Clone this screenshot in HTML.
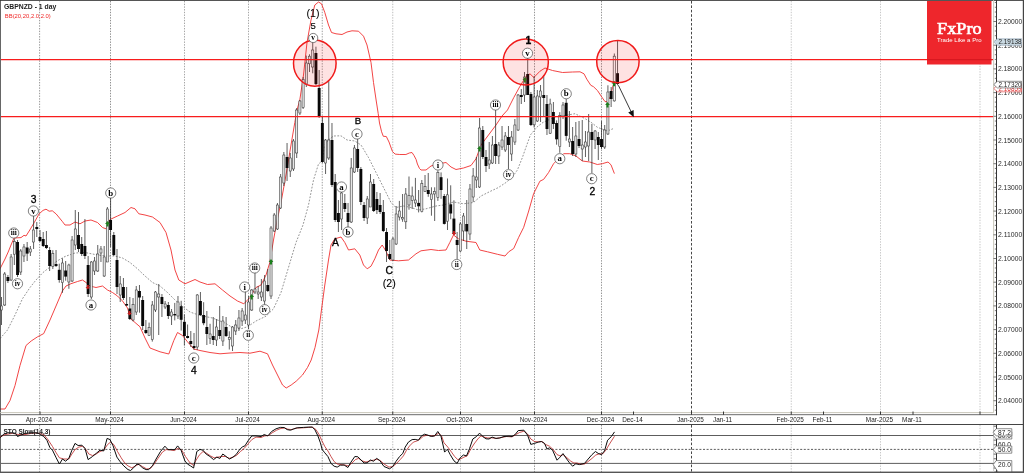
<!DOCTYPE html><html><head><meta charset="utf-8"><title>GBPNZD</title><style>html,body{margin:0;padding:0;background:#fff}body{width:1024px;height:473px;overflow:hidden}svg{display:block;will-change:transform;opacity:0.999}text{font-family:"Liberation Sans",sans-serif}.s{font-family:"Liberation Serif",serif}</style></head><body>
<svg width="1024" height="473" viewBox="0 0 1024 473">
<rect x="0" y="0" width="1024" height="473" fill="#fff"/>
<line x1="39.6" y1="1" x2="39.6" y2="412" stroke="#6c6c6c" stroke-width="0.7" stroke-dasharray="1.4 1.3"/>
<line x1="39.6" y1="425" x2="39.6" y2="472" stroke="#6c6c6c" stroke-width="0.7" stroke-dasharray="1.4 1.3"/>
<line x1="110.5" y1="1" x2="110.5" y2="412" stroke="#606060" stroke-width="0.7" stroke-dasharray="1.4 1.3"/>
<line x1="110.5" y1="425" x2="110.5" y2="472" stroke="#606060" stroke-width="0.7" stroke-dasharray="1.4 1.3"/>
<line x1="184.5" y1="1" x2="184.5" y2="412" stroke="#808080" stroke-width="0.7" stroke-dasharray="1.4 1.3"/>
<line x1="184.5" y1="425" x2="184.5" y2="472" stroke="#808080" stroke-width="0.7" stroke-dasharray="1.4 1.3"/>
<line x1="248.5" y1="1" x2="248.5" y2="412" stroke="#808080" stroke-width="0.7" stroke-dasharray="1.4 1.3"/>
<line x1="248.5" y1="425" x2="248.5" y2="472" stroke="#808080" stroke-width="0.7" stroke-dasharray="1.4 1.3"/>
<line x1="322.25" y1="1" x2="322.25" y2="412" stroke="#777" stroke-width="0.7" stroke-dasharray="1.4 1.3"/>
<line x1="322.25" y1="425" x2="322.25" y2="472" stroke="#777" stroke-width="0.7" stroke-dasharray="1.4 1.3"/>
<line x1="392.75" y1="1" x2="392.75" y2="412" stroke="#a0a0a0" stroke-width="0.7" stroke-dasharray="1.4 1.3"/>
<line x1="392.75" y1="425" x2="392.75" y2="472" stroke="#a0a0a0" stroke-width="0.7" stroke-dasharray="1.4 1.3"/>
<line x1="460.5" y1="1" x2="460.5" y2="412" stroke="#a0a0a0" stroke-width="0.7" stroke-dasharray="1.4 1.3"/>
<line x1="460.5" y1="425" x2="460.5" y2="472" stroke="#a0a0a0" stroke-width="0.7" stroke-dasharray="1.4 1.3"/>
<line x1="534.5" y1="1" x2="534.5" y2="412" stroke="#666" stroke-width="0.7" stroke-dasharray="1.4 1.3"/>
<line x1="534.5" y1="425" x2="534.5" y2="472" stroke="#666" stroke-width="0.7" stroke-dasharray="1.4 1.3"/>
<line x1="601.5" y1="1" x2="601.5" y2="412" stroke="#666" stroke-width="0.7" stroke-dasharray="1.4 1.3"/>
<line x1="601.5" y1="425" x2="601.5" y2="472" stroke="#666" stroke-width="0.7" stroke-dasharray="1.4 1.3"/>
<line x1="791.25" y1="1" x2="791.25" y2="412" stroke="#b0b0b0" stroke-width="0.7" stroke-dasharray="1.4 1.3"/>
<line x1="791.25" y1="425" x2="791.25" y2="472" stroke="#b0b0b0" stroke-width="0.7" stroke-dasharray="1.4 1.3"/>
<line x1="880.5" y1="1" x2="880.5" y2="412" stroke="#b0b0b0" stroke-width="0.7" stroke-dasharray="1.4 1.3"/>
<line x1="880.5" y1="425" x2="880.5" y2="472" stroke="#b0b0b0" stroke-width="0.7" stroke-dasharray="1.4 1.3"/>
<line x1="980" y1="1" x2="980" y2="412" stroke="#b0b0b0" stroke-width="0.7" stroke-dasharray="1.4 1.3"/>
<line x1="980" y1="425" x2="980" y2="472" stroke="#b0b0b0" stroke-width="0.7" stroke-dasharray="1.4 1.3"/>
<line x1="691.5" y1="1" x2="691.5" y2="412" stroke="#333" stroke-width="0.9" stroke-dasharray="2.6 1.8"/>
<line x1="691.5" y1="425" x2="691.5" y2="472" stroke="#333" stroke-width="0.9" stroke-dasharray="2.6 1.8"/>
<polyline points="0.0,338.6 7.5,330.0 15.0,315.0 22.5,298.7 30.0,287.5 36.0,280.0 43.0,272.5 50.0,267.0 57.0,261.0 65.0,256.5 75.0,253.0 85.0,252.5 95.0,254.5 105.0,256.0 115.0,256.0 122.5,258.0 130.0,262.5 137.5,268.8 145.0,276.0 152.5,282.5 160.0,286.0 167.5,292.5 175.0,300.0 180.0,304.5 190.0,312.0 200.0,315.5 212.5,318.0 225.0,323.0 232.5,327.5 240.0,329.0 247.5,326.8 256.0,321.0 266.0,316.2 273.5,308.8 281.0,292.5 288.5,267.5 296.0,242.5 303.0,225.0 308.5,205.0 313.5,180.0 318.5,164.0 322.0,161.0 324.8,145.0 328.5,140.0 333.5,136.0 341.0,135.8 347.0,140.0 354.8,141.0 361.0,145.0 368.5,157.5 376.0,172.5 383.5,187.5 391.0,202.5 396.0,207.5 403.5,206.0 411.0,207.5 418.5,210.0 426.0,208.8 436.0,206.0 443.5,205.0 453.5,202.0 463.5,203.8 473.5,202.5 481.0,196.0 491.0,191.0 498.5,187.5 506.0,182.5 512.0,177.5 517.4,170.0 522.4,157.5 525.0,150.0 530.4,135.0 537.0,127.0 543.0,122.4 555.0,117.0 567.8,115.0 575.0,113.7 585.0,118.6 592.0,123.0 597.4,127.3 607.4,131.0 613.6,128.5" fill="none" stroke="#666" stroke-width="0.7" stroke-linejoin="round" stroke-dasharray="1.8 1.5"/>
<polyline points="0.0,268.8 5.0,259.0 8.2,252.0 11.0,245.0 13.9,238.2 17.0,237.8 21.0,237.6 24.0,235.3 26.0,236.0 29.8,230.0 34.2,222.6 39.0,214.0 43.0,210.4 46.0,209.2 49.2,211.2 52.3,210.8 56.2,214.0 62.5,221.7 65.0,225.0 70.0,225.0 75.0,222.0 80.0,223.8 85.0,221.0 91.0,220.0 97.5,222.5 102.5,227.5 106.0,228.8 110.0,219.5 117.5,216.0 125.0,212.5 131.0,207.5 135.0,208.8 138.8,213.8 145.0,215.0 152.5,217.0 160.0,222.5 166.0,232.5 171.0,250.0 175.0,270.0 178.8,280.0 185.0,283.8 195.0,279.5 200.0,282.0 207.5,284.5 215.0,283.8 222.5,290.0 230.0,296.0 237.5,301.0 243.8,303.8 250.0,297.5 256.0,287.5 261.0,285.0 266.0,275.0 269.8,262.5 273.5,240.0 277.2,220.0 281.0,202.5 286.0,175.0 291.0,145.0 294.8,122.5 297.0,110.0 299.8,100.0 303.5,75.0 307.0,42.5 311.0,20.0 314.8,5.0 318.5,2.0 321.5,3.8 324.8,12.5 328.5,25.0 331.5,32.5 336.0,33.8 342.0,34.5 347.0,32.0 352.0,30.8 358.5,31.2 363.5,36.2 367.0,45.0 371.0,62.5 373.5,82.5 376.1,100.0 378.2,113.5 379.5,123.0 381.6,131.8 383.3,136.3 386.3,136.5 389.0,142.0 392.4,151.4 395.1,154.1 399.8,154.5 405.9,154.5 409.3,153.0 412.0,152.5 414.0,155.5 416.1,159.5 417.4,164.0 419.5,168.5 421.0,170.0 426.0,170.0 431.0,166.0 438.5,163.8 446.0,162.5 451.0,167.0 456.0,169.5 463.5,168.0 471.0,165.5 476.0,158.8 481.0,145.0 488.5,135.0 496.0,125.0 502.0,116.0 507.5,110.0 513.8,97.5 520.0,86.2 526.2,76.2 530.0,73.8 533.8,77.5 540.0,71.2 545.0,68.0 552.5,70.5 562.5,72.5 572.5,72.0 580.0,71.8 584.0,73.8 586.8,79.2 590.8,85.3 593.5,86.7 597.6,90.7 601.6,96.8 605.0,101.6 607.0,101.6 610.4,96.8 612.5,87.4 613.8,84.0" fill="none" stroke="#f03030" stroke-width="0.9" stroke-linejoin="round" />
<polyline points="0.0,409.0 5.0,409.0 10.0,400.5 15.0,385.5 20.0,365.5 26.0,345.5 31.2,341.0 37.4,336.9 43.7,333.6 50.0,320.0 56.0,306.0 62.4,291.0 66.0,286.0 71.0,283.7 77.5,281.5 82.5,280.0 86.0,282.5 90.0,286.0 96.0,287.5 102.5,286.0 107.5,290.0 112.5,292.5 117.5,296.0 122.5,301.0 127.5,308.0 131.0,319.0 140.0,326.8 145.0,338.0 150.0,348.0 160.0,351.8 168.8,354.0 173.8,340.5 177.5,332.5 182.5,335.5 187.5,341.8 193.8,349.0 200.0,350.5 210.0,352.5 220.0,353.8 230.0,353.0 240.0,352.5 250.0,353.2 260.0,351.2 267.5,353.8 272.5,365.0 277.5,375.0 282.5,385.0 286.2,388.0 291.2,385.0 296.2,381.2 302.5,375.0 307.5,367.5 311.2,360.0 315.0,347.5 318.8,330.0 321.2,312.0 324.8,285.0 328.5,260.0 331.0,245.0 334.8,238.8 341.0,237.0 344.8,242.5 348.5,250.0 354.8,248.8 359.8,255.0 363.5,265.0 367.2,268.8 371.0,266.2 374.8,258.8 378.5,250.0 382.2,245.0 386.0,251.2 389.8,260.0 398.5,260.8 408.5,260.0 416.0,253.8 421.0,250.8 431.0,249.5 438.5,250.5 446.0,250.0 449.8,242.5 453.5,235.0 458.5,238.8 466.0,241.2 476.0,242.5 479.8,250.0 487.5,251.8 497.5,254.3 505.0,256.0 508.7,251.8 513.7,248.5 518.7,237.3 523.7,227.3 528.7,211.0 533.6,193.7 539.9,181.2 543.6,179.4 548.6,172.5 553.6,163.7 558.6,158.7 563.6,153.7 569.8,153.7 576.0,156.0 582.3,161.0 589.8,162.0 597.3,164.5 602.3,163.7 608.0,162.0 611.0,164.8 614.4,173.6" fill="none" stroke="#f03030" stroke-width="0.9" stroke-linejoin="round" />
<line x1="1.50" y1="297" x2="1.50" y2="325" stroke="#2a2a2a" stroke-width="0.75"/>
<rect x="0.45" y="306" width="2.1" height="4" fill="#e6e6e6" stroke="#333" stroke-width="0.55"/>
<line x1="4.71" y1="272" x2="4.71" y2="306" stroke="#2a2a2a" stroke-width="0.75"/>
<rect x="3.66" y="274" width="2.1" height="31" fill="#e6e6e6" stroke="#333" stroke-width="0.55"/>
<line x1="7.91" y1="275" x2="7.91" y2="283" stroke="#2a2a2a" stroke-width="0.75"/>
<rect x="6.46" y="277" width="2.9" height="4" fill="#080808"/>
<line x1="11.12" y1="254" x2="11.12" y2="281" stroke="#2a2a2a" stroke-width="0.75"/>
<rect x="10.07" y="257" width="2.1" height="23" fill="#e6e6e6" stroke="#333" stroke-width="0.55"/>
<line x1="14.33" y1="238.7" x2="14.33" y2="265" stroke="#2a2a2a" stroke-width="0.75"/>
<rect x="13.28" y="241.4" width="2.1" height="12.799999999999983" fill="#e6e6e6" stroke="#333" stroke-width="0.55"/>
<line x1="17.54" y1="240" x2="17.54" y2="277" stroke="#2a2a2a" stroke-width="0.75"/>
<rect x="16.09" y="242" width="2.9" height="33" fill="#080808"/>
<line x1="20.75" y1="249" x2="20.75" y2="275" stroke="#2a2a2a" stroke-width="0.75"/>
<rect x="19.70" y="251" width="2.1" height="21" fill="#e6e6e6" stroke="#333" stroke-width="0.55"/>
<line x1="23.96" y1="244" x2="23.96" y2="262" stroke="#2a2a2a" stroke-width="0.75"/>
<rect x="22.91" y="247" width="2.1" height="9" fill="#e6e6e6" stroke="#333" stroke-width="0.55"/>
<line x1="27.17" y1="242" x2="27.17" y2="261" stroke="#2a2a2a" stroke-width="0.75"/>
<rect x="25.72" y="247.5" width="2.9" height="6.099999999999994" fill="#080808"/>
<line x1="30.37" y1="246" x2="30.37" y2="256" stroke="#2a2a2a" stroke-width="0.75"/>
<rect x="29.32" y="249" width="2.1" height="3" fill="#e6e6e6" stroke="#333" stroke-width="0.55"/>
<line x1="33.58" y1="216" x2="33.58" y2="249" stroke="#2a2a2a" stroke-width="0.75"/>
<rect x="32.53" y="230" width="2.1" height="12" fill="#e6e6e6" stroke="#333" stroke-width="0.55"/>
<line x1="36.79" y1="222" x2="36.79" y2="237" stroke="#2a2a2a" stroke-width="0.75"/>
<rect x="35.34" y="227" width="2.9" height="2" fill="#080808"/>
<line x1="40.00" y1="230" x2="40.00" y2="242" stroke="#2a2a2a" stroke-width="0.75"/>
<rect x="38.55" y="237" width="2.9" height="4" fill="#080808"/>
<line x1="43.21" y1="232" x2="43.21" y2="247" stroke="#2a2a2a" stroke-width="0.75"/>
<rect x="41.76" y="239" width="2.9" height="7" fill="#080808"/>
<line x1="46.42" y1="231" x2="46.42" y2="249" stroke="#2a2a2a" stroke-width="0.75"/>
<rect x="44.97" y="245" width="2.9" height="3" fill="#080808"/>
<line x1="49.63" y1="247" x2="49.63" y2="271" stroke="#2a2a2a" stroke-width="0.75"/>
<rect x="48.18" y="250" width="2.9" height="16" fill="#080808"/>
<line x1="52.83" y1="250.2" x2="52.83" y2="269" stroke="#2a2a2a" stroke-width="0.75"/>
<rect x="51.78" y="253.6" width="2.1" height="12.799999999999983" fill="#e6e6e6" stroke="#333" stroke-width="0.55"/>
<line x1="56.04" y1="250" x2="56.04" y2="267" stroke="#2a2a2a" stroke-width="0.75"/>
<rect x="54.59" y="264" width="2.9" height="2" fill="#080808"/>
<line x1="59.25" y1="263.7" x2="59.25" y2="282.7" stroke="#2a2a2a" stroke-width="0.75"/>
<rect x="57.80" y="269.8" width="2.9" height="10.199999999999989" fill="#080808"/>
<line x1="62.46" y1="258.3" x2="62.46" y2="292.8" stroke="#2a2a2a" stroke-width="0.75"/>
<rect x="61.41" y="263" width="2.1" height="19.69999999999999" fill="#e6e6e6" stroke="#333" stroke-width="0.55"/>
<line x1="65.67" y1="261" x2="65.67" y2="280.7" stroke="#2a2a2a" stroke-width="0.75"/>
<rect x="64.22" y="270.5" width="2.9" height="6.100000000000023" fill="#080808"/>
<line x1="68.88" y1="263.7" x2="68.88" y2="288.8" stroke="#2a2a2a" stroke-width="0.75"/>
<rect x="67.83" y="265" width="2.1" height="17" fill="#e6e6e6" stroke="#333" stroke-width="0.55"/>
<line x1="72.09" y1="236" x2="72.09" y2="282" stroke="#2a2a2a" stroke-width="0.75"/>
<rect x="71.04" y="240" width="2.1" height="41" fill="#e6e6e6" stroke="#333" stroke-width="0.55"/>
<line x1="75.29" y1="210" x2="75.29" y2="250" stroke="#2a2a2a" stroke-width="0.75"/>
<rect x="74.24" y="229" width="2.1" height="16" fill="#e6e6e6" stroke="#333" stroke-width="0.55"/>
<line x1="78.50" y1="212" x2="78.50" y2="252" stroke="#2a2a2a" stroke-width="0.75"/>
<rect x="77.05" y="235" width="2.9" height="14" fill="#080808"/>
<line x1="81.71" y1="237" x2="81.71" y2="256" stroke="#2a2a2a" stroke-width="0.75"/>
<rect x="80.26" y="244" width="2.9" height="10" fill="#080808"/>
<line x1="84.92" y1="219" x2="84.92" y2="259" stroke="#2a2a2a" stroke-width="0.75"/>
<rect x="83.47" y="246" width="2.9" height="10" fill="#080808"/>
<line x1="88.13" y1="256" x2="88.13" y2="297" stroke="#2a2a2a" stroke-width="0.75"/>
<rect x="86.68" y="265" width="2.9" height="29" fill="#080808"/>
<line x1="91.34" y1="261" x2="91.34" y2="299" stroke="#2a2a2a" stroke-width="0.75"/>
<rect x="90.29" y="262" width="2.1" height="35" fill="#e6e6e6" stroke="#333" stroke-width="0.55"/>
<line x1="94.55" y1="257" x2="94.55" y2="275" stroke="#2a2a2a" stroke-width="0.75"/>
<rect x="93.50" y="261" width="2.1" height="10" fill="#e6e6e6" stroke="#333" stroke-width="0.55"/>
<line x1="97.75" y1="245" x2="97.75" y2="272" stroke="#2a2a2a" stroke-width="0.75"/>
<rect x="96.70" y="254" width="2.1" height="17" fill="#e6e6e6" stroke="#333" stroke-width="0.55"/>
<line x1="100.96" y1="246" x2="100.96" y2="262" stroke="#2a2a2a" stroke-width="0.75"/>
<rect x="99.91" y="249" width="2.1" height="4" fill="#e6e6e6" stroke="#333" stroke-width="0.55"/>
<line x1="104.17" y1="246" x2="104.17" y2="277" stroke="#2a2a2a" stroke-width="0.75"/>
<rect x="103.12" y="257" width="2.1" height="19" fill="#e6e6e6" stroke="#333" stroke-width="0.55"/>
<line x1="107.38" y1="207" x2="107.38" y2="262" stroke="#2a2a2a" stroke-width="0.75"/>
<rect x="106.33" y="209" width="2.1" height="53" fill="#e6e6e6" stroke="#333" stroke-width="0.55"/>
<line x1="110.59" y1="198" x2="110.59" y2="247" stroke="#2a2a2a" stroke-width="0.75"/>
<rect x="109.14" y="220" width="2.9" height="10" fill="#080808"/>
<line x1="113.80" y1="232" x2="113.80" y2="256" stroke="#2a2a2a" stroke-width="0.75"/>
<rect x="112.35" y="235" width="2.9" height="20" fill="#080808"/>
<line x1="117.01" y1="249" x2="117.01" y2="294" stroke="#2a2a2a" stroke-width="0.75"/>
<rect x="115.56" y="260" width="2.9" height="27" fill="#080808"/>
<line x1="120.22" y1="276" x2="120.22" y2="302" stroke="#2a2a2a" stroke-width="0.75"/>
<rect x="119.17" y="284" width="2.1" height="11" fill="#e6e6e6" stroke="#333" stroke-width="0.55"/>
<line x1="123.42" y1="278" x2="123.42" y2="300" stroke="#2a2a2a" stroke-width="0.75"/>
<rect x="121.97" y="287" width="2.9" height="11" fill="#080808"/>
<line x1="126.63" y1="287" x2="126.63" y2="306" stroke="#2a2a2a" stroke-width="0.75"/>
<rect x="125.18" y="304" width="2.9" height="1.5" fill="#080808"/>
<line x1="129.84" y1="297" x2="129.84" y2="320" stroke="#2a2a2a" stroke-width="0.75"/>
<rect x="128.39" y="308.5" width="2.9" height="10.5" fill="#080808"/>
<line x1="133.05" y1="298" x2="133.05" y2="321.3" stroke="#2a2a2a" stroke-width="0.75"/>
<rect x="132.00" y="304.5" width="2.1" height="15.5" fill="#e6e6e6" stroke="#333" stroke-width="0.55"/>
<line x1="136.26" y1="286" x2="136.26" y2="315" stroke="#2a2a2a" stroke-width="0.75"/>
<rect x="135.21" y="290" width="2.1" height="22" fill="#e6e6e6" stroke="#333" stroke-width="0.55"/>
<line x1="139.47" y1="285" x2="139.47" y2="312.7" stroke="#2a2a2a" stroke-width="0.75"/>
<rect x="138.02" y="291" width="2.9" height="6.5" fill="#080808"/>
<line x1="142.68" y1="296" x2="142.68" y2="330" stroke="#2a2a2a" stroke-width="0.75"/>
<rect x="141.23" y="300" width="2.9" height="26" fill="#080808"/>
<line x1="145.88" y1="320" x2="145.88" y2="334" stroke="#2a2a2a" stroke-width="0.75"/>
<rect x="144.43" y="330" width="2.9" height="3" fill="#080808"/>
<line x1="149.09" y1="322.6" x2="149.09" y2="336" stroke="#2a2a2a" stroke-width="0.75"/>
<rect x="148.04" y="327.4" width="2.1" height="8.100000000000023" fill="#e6e6e6" stroke="#333" stroke-width="0.55"/>
<line x1="152.30" y1="301" x2="152.30" y2="341.6" stroke="#2a2a2a" stroke-width="0.75"/>
<rect x="151.25" y="305" width="2.1" height="34.5" fill="#e6e6e6" stroke="#333" stroke-width="0.55"/>
<line x1="155.51" y1="291" x2="155.51" y2="312" stroke="#2a2a2a" stroke-width="0.75"/>
<rect x="154.46" y="292" width="2.1" height="18" fill="#e6e6e6" stroke="#333" stroke-width="0.55"/>
<line x1="158.72" y1="284" x2="158.72" y2="335" stroke="#2a2a2a" stroke-width="0.75"/>
<rect x="157.67" y="294" width="2.1" height="3" fill="#e6e6e6" stroke="#333" stroke-width="0.55"/>
<line x1="161.93" y1="294" x2="161.93" y2="317" stroke="#2a2a2a" stroke-width="0.75"/>
<rect x="160.48" y="297" width="2.9" height="7" fill="#080808"/>
<line x1="165.14" y1="301" x2="165.14" y2="309" stroke="#2a2a2a" stroke-width="0.75"/>
<rect x="164.09" y="304" width="2.1" height="3" fill="#e6e6e6" stroke="#333" stroke-width="0.55"/>
<line x1="168.34" y1="302" x2="168.34" y2="319" stroke="#2a2a2a" stroke-width="0.75"/>
<rect x="166.89" y="305" width="2.9" height="11" fill="#080808"/>
<line x1="171.55" y1="309" x2="171.55" y2="325" stroke="#2a2a2a" stroke-width="0.75"/>
<rect x="170.50" y="312" width="2.1" height="4" fill="#e6e6e6" stroke="#333" stroke-width="0.55"/>
<line x1="174.76" y1="302.9" x2="174.76" y2="320.4" stroke="#2a2a2a" stroke-width="0.75"/>
<rect x="173.31" y="314" width="2.9" height="1.3999999999999773" fill="#080808"/>
<line x1="177.97" y1="296" x2="177.97" y2="319" stroke="#2a2a2a" stroke-width="0.75"/>
<rect x="176.92" y="302" width="2.1" height="14" fill="#e6e6e6" stroke="#333" stroke-width="0.55"/>
<line x1="181.18" y1="300.8" x2="181.18" y2="330.6" stroke="#2a2a2a" stroke-width="0.75"/>
<rect x="179.73" y="306.2" width="2.9" height="13.600000000000023" fill="#080808"/>
<line x1="184.39" y1="314.4" x2="184.39" y2="345.5" stroke="#2a2a2a" stroke-width="0.75"/>
<rect x="182.94" y="321.8" width="2.9" height="14.199999999999989" fill="#080808"/>
<line x1="187.60" y1="324.5" x2="187.60" y2="338.5" stroke="#2a2a2a" stroke-width="0.75"/>
<rect x="186.15" y="336" width="2.9" height="2" fill="#080808"/>
<line x1="190.80" y1="331" x2="190.80" y2="347" stroke="#2a2a2a" stroke-width="0.75"/>
<rect x="189.35" y="341" width="2.9" height="3" fill="#080808"/>
<line x1="194.01" y1="333" x2="194.01" y2="350" stroke="#2a2a2a" stroke-width="0.75"/>
<rect x="192.56" y="346" width="2.9" height="2" fill="#080808"/>
<line x1="197.22" y1="294" x2="197.22" y2="350" stroke="#2a2a2a" stroke-width="0.75"/>
<rect x="196.17" y="295" width="2.1" height="52" fill="#e6e6e6" stroke="#333" stroke-width="0.55"/>
<line x1="200.43" y1="292" x2="200.43" y2="316" stroke="#2a2a2a" stroke-width="0.75"/>
<rect x="198.98" y="301" width="2.9" height="14" fill="#080808"/>
<line x1="203.64" y1="302.2" x2="203.64" y2="325.2" stroke="#2a2a2a" stroke-width="0.75"/>
<rect x="202.19" y="315" width="2.9" height="8.199999999999989" fill="#080808"/>
<line x1="206.85" y1="311" x2="206.85" y2="345" stroke="#2a2a2a" stroke-width="0.75"/>
<rect x="205.40" y="327" width="2.9" height="7" fill="#080808"/>
<line x1="210.06" y1="323.8" x2="210.06" y2="344" stroke="#2a2a2a" stroke-width="0.75"/>
<rect x="209.01" y="334" width="2.1" height="4.699999999999989" fill="#e6e6e6" stroke="#333" stroke-width="0.55"/>
<line x1="213.26" y1="317" x2="213.26" y2="345" stroke="#2a2a2a" stroke-width="0.75"/>
<rect x="211.81" y="336" width="2.9" height="4" fill="#080808"/>
<line x1="216.47" y1="319" x2="216.47" y2="346" stroke="#2a2a2a" stroke-width="0.75"/>
<rect x="215.42" y="327" width="2.1" height="13" fill="#e6e6e6" stroke="#333" stroke-width="0.55"/>
<line x1="219.68" y1="306" x2="219.68" y2="339" stroke="#2a2a2a" stroke-width="0.75"/>
<rect x="218.23" y="330" width="2.9" height="6" fill="#080808"/>
<line x1="222.89" y1="316" x2="222.89" y2="346" stroke="#2a2a2a" stroke-width="0.75"/>
<rect x="221.84" y="321" width="2.1" height="20" fill="#e6e6e6" stroke="#333" stroke-width="0.55"/>
<line x1="226.10" y1="317" x2="226.10" y2="337" stroke="#2a2a2a" stroke-width="0.75"/>
<rect x="224.65" y="327" width="2.9" height="9" fill="#080808"/>
<line x1="229.31" y1="331.3" x2="229.31" y2="349.5" stroke="#2a2a2a" stroke-width="0.75"/>
<rect x="228.26" y="337.4" width="2.1" height="2.0" fill="#e6e6e6" stroke="#333" stroke-width="0.55"/>
<line x1="232.52" y1="326" x2="232.52" y2="351" stroke="#2a2a2a" stroke-width="0.75"/>
<rect x="231.47" y="327" width="2.1" height="19" fill="#e6e6e6" stroke="#333" stroke-width="0.55"/>
<line x1="235.72" y1="320" x2="235.72" y2="335" stroke="#2a2a2a" stroke-width="0.75"/>
<rect x="234.67" y="325" width="2.1" height="6" fill="#e6e6e6" stroke="#333" stroke-width="0.55"/>
<line x1="238.93" y1="310" x2="238.93" y2="331" stroke="#2a2a2a" stroke-width="0.75"/>
<rect x="237.88" y="318" width="2.1" height="10" fill="#e6e6e6" stroke="#333" stroke-width="0.55"/>
<line x1="242.14" y1="308" x2="242.14" y2="326" stroke="#2a2a2a" stroke-width="0.75"/>
<rect x="241.09" y="311" width="2.1" height="10" fill="#e6e6e6" stroke="#333" stroke-width="0.55"/>
<line x1="245.35" y1="290" x2="245.35" y2="324" stroke="#2a2a2a" stroke-width="0.75"/>
<rect x="244.30" y="315" width="2.1" height="5" fill="#e6e6e6" stroke="#333" stroke-width="0.55"/>
<line x1="248.56" y1="296" x2="248.56" y2="329" stroke="#2a2a2a" stroke-width="0.75"/>
<rect x="247.51" y="302" width="2.1" height="23" fill="#e6e6e6" stroke="#333" stroke-width="0.55"/>
<line x1="251.77" y1="289" x2="251.77" y2="311" stroke="#2a2a2a" stroke-width="0.75"/>
<rect x="250.72" y="290" width="2.1" height="20" fill="#e6e6e6" stroke="#333" stroke-width="0.55"/>
<line x1="254.98" y1="271" x2="254.98" y2="294" stroke="#2a2a2a" stroke-width="0.75"/>
<rect x="253.93" y="289" width="2.1" height="3" fill="#e6e6e6" stroke="#333" stroke-width="0.55"/>
<line x1="258.18" y1="286" x2="258.18" y2="299" stroke="#2a2a2a" stroke-width="0.75"/>
<rect x="257.13" y="292" width="2.1" height="2" fill="#e6e6e6" stroke="#333" stroke-width="0.55"/>
<line x1="261.39" y1="279" x2="261.39" y2="301" stroke="#2a2a2a" stroke-width="0.75"/>
<rect x="260.34" y="292" width="2.1" height="5" fill="#e6e6e6" stroke="#333" stroke-width="0.55"/>
<line x1="264.60" y1="275" x2="264.60" y2="305" stroke="#2a2a2a" stroke-width="0.75"/>
<rect x="263.55" y="281" width="2.1" height="20" fill="#e6e6e6" stroke="#333" stroke-width="0.55"/>
<line x1="267.81" y1="269" x2="267.81" y2="292" stroke="#2a2a2a" stroke-width="0.75"/>
<rect x="266.36" y="285" width="2.9" height="6" fill="#080808"/>
<line x1="271.02" y1="226" x2="271.02" y2="299" stroke="#2a2a2a" stroke-width="0.75"/>
<rect x="269.97" y="228" width="2.1" height="68" fill="#e6e6e6" stroke="#333" stroke-width="0.55"/>
<line x1="274.23" y1="213" x2="274.23" y2="232" stroke="#2a2a2a" stroke-width="0.75"/>
<rect x="273.18" y="215" width="2.1" height="16" fill="#e6e6e6" stroke="#333" stroke-width="0.55"/>
<line x1="277.44" y1="203" x2="277.44" y2="230" stroke="#2a2a2a" stroke-width="0.75"/>
<rect x="276.39" y="205" width="2.1" height="24" fill="#e6e6e6" stroke="#333" stroke-width="0.55"/>
<line x1="280.64" y1="174" x2="280.64" y2="209" stroke="#2a2a2a" stroke-width="0.75"/>
<rect x="279.59" y="177" width="2.1" height="31" fill="#e6e6e6" stroke="#333" stroke-width="0.55"/>
<line x1="283.85" y1="152" x2="283.85" y2="186" stroke="#2a2a2a" stroke-width="0.75"/>
<rect x="282.80" y="155" width="2.1" height="28" fill="#e6e6e6" stroke="#333" stroke-width="0.55"/>
<line x1="287.06" y1="143" x2="287.06" y2="181" stroke="#2a2a2a" stroke-width="0.75"/>
<rect x="285.61" y="157" width="2.9" height="11" fill="#080808"/>
<line x1="290.27" y1="153" x2="290.27" y2="177" stroke="#2a2a2a" stroke-width="0.75"/>
<rect x="289.22" y="158" width="2.1" height="13" fill="#e6e6e6" stroke="#333" stroke-width="0.55"/>
<line x1="293.48" y1="139" x2="293.48" y2="171" stroke="#2a2a2a" stroke-width="0.75"/>
<rect x="292.43" y="141" width="2.1" height="28" fill="#e6e6e6" stroke="#333" stroke-width="0.55"/>
<line x1="296.69" y1="108" x2="296.69" y2="158" stroke="#2a2a2a" stroke-width="0.75"/>
<rect x="295.64" y="110" width="2.1" height="43" fill="#e6e6e6" stroke="#333" stroke-width="0.55"/>
<line x1="299.90" y1="100" x2="299.90" y2="115" stroke="#2a2a2a" stroke-width="0.75"/>
<rect x="298.85" y="101" width="2.1" height="12" fill="#e6e6e6" stroke="#333" stroke-width="0.55"/>
<line x1="303.11" y1="77" x2="303.11" y2="109" stroke="#2a2a2a" stroke-width="0.75"/>
<rect x="302.06" y="79.5" width="2.1" height="27.900000000000006" fill="#e6e6e6" stroke="#333" stroke-width="0.55"/>
<line x1="306.31" y1="55.6" x2="306.31" y2="87" stroke="#2a2a2a" stroke-width="0.75"/>
<rect x="305.26" y="63" width="2.1" height="21" fill="#e6e6e6" stroke="#333" stroke-width="0.55"/>
<line x1="309.52" y1="54.3" x2="309.52" y2="72" stroke="#2a2a2a" stroke-width="0.75"/>
<rect x="308.47" y="56.2" width="2.1" height="7.599999999999994" fill="#e6e6e6" stroke="#333" stroke-width="0.55"/>
<line x1="312.73" y1="42.2" x2="312.73" y2="73.3" stroke="#2a2a2a" stroke-width="0.75"/>
<rect x="311.68" y="50" width="2.1" height="17" fill="#e6e6e6" stroke="#333" stroke-width="0.55"/>
<line x1="315.94" y1="46.7" x2="315.94" y2="85" stroke="#2a2a2a" stroke-width="0.75"/>
<rect x="314.49" y="53" width="2.9" height="31.099999999999994" fill="#080808"/>
<line x1="319.15" y1="70" x2="319.15" y2="118" stroke="#2a2a2a" stroke-width="0.75"/>
<rect x="317.70" y="88" width="2.9" height="29" fill="#080808"/>
<line x1="322.36" y1="117" x2="322.36" y2="163" stroke="#2a2a2a" stroke-width="0.75"/>
<rect x="320.91" y="123" width="2.9" height="39" fill="#080808"/>
<line x1="325.57" y1="139" x2="325.57" y2="174" stroke="#2a2a2a" stroke-width="0.75"/>
<rect x="324.52" y="140" width="2.1" height="23" fill="#e6e6e6" stroke="#333" stroke-width="0.55"/>
<line x1="328.77" y1="81" x2="328.77" y2="160" stroke="#2a2a2a" stroke-width="0.75"/>
<rect x="327.72" y="140" width="2.1" height="18" fill="#e6e6e6" stroke="#333" stroke-width="0.55"/>
<line x1="331.98" y1="123" x2="331.98" y2="187" stroke="#2a2a2a" stroke-width="0.75"/>
<rect x="330.53" y="140" width="2.9" height="45" fill="#080808"/>
<line x1="335.19" y1="174" x2="335.19" y2="222" stroke="#2a2a2a" stroke-width="0.75"/>
<rect x="333.74" y="182" width="2.9" height="38" fill="#080808"/>
<line x1="338.40" y1="200" x2="338.40" y2="232" stroke="#2a2a2a" stroke-width="0.75"/>
<rect x="336.95" y="213" width="2.9" height="9" fill="#080808"/>
<line x1="341.61" y1="192" x2="341.61" y2="230" stroke="#2a2a2a" stroke-width="0.75"/>
<rect x="340.56" y="193" width="2.1" height="26" fill="#e6e6e6" stroke="#333" stroke-width="0.55"/>
<line x1="344.82" y1="194" x2="344.82" y2="212" stroke="#2a2a2a" stroke-width="0.75"/>
<rect x="343.37" y="203" width="2.9" height="6" fill="#080808"/>
<line x1="348.03" y1="203" x2="348.03" y2="232" stroke="#2a2a2a" stroke-width="0.75"/>
<rect x="346.58" y="213" width="2.9" height="9" fill="#080808"/>
<line x1="351.23" y1="158" x2="351.23" y2="223" stroke="#2a2a2a" stroke-width="0.75"/>
<rect x="350.18" y="168" width="2.1" height="54" fill="#e6e6e6" stroke="#333" stroke-width="0.55"/>
<line x1="354.44" y1="145" x2="354.44" y2="173" stroke="#2a2a2a" stroke-width="0.75"/>
<rect x="353.39" y="148" width="2.1" height="24" fill="#e6e6e6" stroke="#333" stroke-width="0.55"/>
<line x1="357.65" y1="139" x2="357.65" y2="172" stroke="#2a2a2a" stroke-width="0.75"/>
<rect x="356.20" y="149" width="2.9" height="19" fill="#080808"/>
<line x1="360.86" y1="167" x2="360.86" y2="205" stroke="#2a2a2a" stroke-width="0.75"/>
<rect x="359.41" y="169" width="2.9" height="33" fill="#080808"/>
<line x1="364.07" y1="202" x2="364.07" y2="221" stroke="#2a2a2a" stroke-width="0.75"/>
<rect x="362.62" y="205" width="2.9" height="13" fill="#080808"/>
<line x1="367.28" y1="196" x2="367.28" y2="224" stroke="#2a2a2a" stroke-width="0.75"/>
<rect x="366.23" y="199" width="2.1" height="19" fill="#e6e6e6" stroke="#333" stroke-width="0.55"/>
<line x1="370.49" y1="174" x2="370.49" y2="207" stroke="#2a2a2a" stroke-width="0.75"/>
<rect x="369.44" y="182" width="2.1" height="25" fill="#e6e6e6" stroke="#333" stroke-width="0.55"/>
<line x1="373.69" y1="179" x2="373.69" y2="212" stroke="#2a2a2a" stroke-width="0.75"/>
<rect x="372.24" y="184" width="2.9" height="27" fill="#080808"/>
<line x1="376.90" y1="192" x2="376.90" y2="214" stroke="#2a2a2a" stroke-width="0.75"/>
<rect x="375.45" y="199" width="2.9" height="11" fill="#080808"/>
<line x1="380.11" y1="193" x2="380.11" y2="214" stroke="#2a2a2a" stroke-width="0.75"/>
<rect x="378.66" y="205" width="2.9" height="7" fill="#080808"/>
<line x1="383.32" y1="200" x2="383.32" y2="232" stroke="#2a2a2a" stroke-width="0.75"/>
<rect x="381.87" y="212" width="2.9" height="19" fill="#080808"/>
<line x1="386.53" y1="228" x2="386.53" y2="262" stroke="#2a2a2a" stroke-width="0.75"/>
<rect x="385.08" y="232" width="2.9" height="19" fill="#080808"/>
<line x1="389.74" y1="240" x2="389.74" y2="260" stroke="#2a2a2a" stroke-width="0.75"/>
<rect x="388.29" y="254" width="2.9" height="5" fill="#080808"/>
<line x1="392.95" y1="237" x2="392.95" y2="261" stroke="#2a2a2a" stroke-width="0.75"/>
<rect x="391.90" y="239" width="2.1" height="21" fill="#e6e6e6" stroke="#333" stroke-width="0.55"/>
<line x1="396.15" y1="206" x2="396.15" y2="245" stroke="#2a2a2a" stroke-width="0.75"/>
<rect x="395.10" y="214" width="2.1" height="30" fill="#e6e6e6" stroke="#333" stroke-width="0.55"/>
<line x1="399.36" y1="200.9" x2="399.36" y2="220.5" stroke="#2a2a2a" stroke-width="0.75"/>
<rect x="398.31" y="211" width="2.1" height="6" fill="#e6e6e6" stroke="#333" stroke-width="0.55"/>
<line x1="402.57" y1="194" x2="402.57" y2="221.8" stroke="#2a2a2a" stroke-width="0.75"/>
<rect x="401.52" y="217.5" width="2.1" height="1.5" fill="#e6e6e6" stroke="#333" stroke-width="0.55"/>
<line x1="405.78" y1="188" x2="405.78" y2="229" stroke="#2a2a2a" stroke-width="0.75"/>
<rect x="404.73" y="194" width="2.1" height="27.80000000000001" fill="#e6e6e6" stroke="#333" stroke-width="0.55"/>
<line x1="408.99" y1="176.5" x2="408.99" y2="209.7" stroke="#2a2a2a" stroke-width="0.75"/>
<rect x="407.94" y="195.4" width="2.1" height="9.599999999999994" fill="#e6e6e6" stroke="#333" stroke-width="0.55"/>
<line x1="412.20" y1="186.6" x2="412.20" y2="209" stroke="#2a2a2a" stroke-width="0.75"/>
<rect x="411.15" y="196" width="2.1" height="4.400000000000006" fill="#e6e6e6" stroke="#333" stroke-width="0.55"/>
<line x1="415.41" y1="177.9" x2="415.41" y2="207" stroke="#2a2a2a" stroke-width="0.75"/>
<rect x="414.36" y="200" width="2.1" height="3" fill="#e6e6e6" stroke="#333" stroke-width="0.55"/>
<line x1="418.61" y1="190" x2="418.61" y2="212.4" stroke="#2a2a2a" stroke-width="0.75"/>
<rect x="417.16" y="202.9" width="2.9" height="3.4000000000000057" fill="#080808"/>
<line x1="421.82" y1="180" x2="421.82" y2="212.4" stroke="#2a2a2a" stroke-width="0.75"/>
<rect x="420.77" y="183.3" width="2.1" height="28.399999999999977" fill="#e6e6e6" stroke="#333" stroke-width="0.55"/>
<line x1="425.03" y1="175" x2="425.03" y2="192" stroke="#2a2a2a" stroke-width="0.75"/>
<rect x="423.98" y="186.6" width="2.1" height="4.800000000000011" fill="#e6e6e6" stroke="#333" stroke-width="0.55"/>
<line x1="428.24" y1="173" x2="428.24" y2="196.8" stroke="#2a2a2a" stroke-width="0.75"/>
<rect x="426.79" y="190" width="2.9" height="4" fill="#080808"/>
<line x1="431.45" y1="187.3" x2="431.45" y2="215.7" stroke="#2a2a2a" stroke-width="0.75"/>
<rect x="430.40" y="194" width="2.1" height="5.5" fill="#e6e6e6" stroke="#333" stroke-width="0.55"/>
<line x1="434.66" y1="187.3" x2="434.66" y2="221" stroke="#2a2a2a" stroke-width="0.75"/>
<rect x="433.61" y="191.4" width="2.1" height="2.5999999999999943" fill="#e6e6e6" stroke="#333" stroke-width="0.55"/>
<line x1="437.87" y1="170.4" x2="437.87" y2="200.9" stroke="#2a2a2a" stroke-width="0.75"/>
<rect x="436.82" y="172.4" width="2.1" height="25.099999999999994" fill="#e6e6e6" stroke="#333" stroke-width="0.55"/>
<line x1="441.07" y1="172.4" x2="441.07" y2="198.8" stroke="#2a2a2a" stroke-width="0.75"/>
<rect x="439.62" y="177.2" width="2.9" height="12.800000000000011" fill="#080808"/>
<line x1="444.28" y1="194" x2="444.28" y2="224.5" stroke="#2a2a2a" stroke-width="0.75"/>
<rect x="442.83" y="196" width="2.9" height="27.900000000000006" fill="#080808"/>
<line x1="447.49" y1="178.5" x2="447.49" y2="230" stroke="#2a2a2a" stroke-width="0.75"/>
<rect x="446.44" y="194.8" width="2.1" height="26.399999999999977" fill="#e6e6e6" stroke="#333" stroke-width="0.55"/>
<line x1="450.70" y1="185.3" x2="450.70" y2="219.2" stroke="#2a2a2a" stroke-width="0.75"/>
<rect x="449.25" y="204.3" width="2.9" height="9.199999999999989" fill="#080808"/>
<line x1="453.91" y1="200.3" x2="453.91" y2="235" stroke="#2a2a2a" stroke-width="0.75"/>
<rect x="452.46" y="218.6" width="2.9" height="15.400000000000006" fill="#080808"/>
<line x1="457.12" y1="232" x2="457.12" y2="259" stroke="#2a2a2a" stroke-width="0.75"/>
<rect x="455.67" y="240" width="2.9" height="5" fill="#080808"/>
<line x1="460.33" y1="222" x2="460.33" y2="252" stroke="#2a2a2a" stroke-width="0.75"/>
<rect x="459.28" y="224" width="2.1" height="27" fill="#e6e6e6" stroke="#333" stroke-width="0.55"/>
<line x1="463.54" y1="213" x2="463.54" y2="241" stroke="#2a2a2a" stroke-width="0.75"/>
<rect x="462.49" y="216" width="2.1" height="15" fill="#e6e6e6" stroke="#333" stroke-width="0.55"/>
<line x1="466.74" y1="200" x2="466.74" y2="249" stroke="#2a2a2a" stroke-width="0.75"/>
<rect x="465.29" y="224" width="2.9" height="7.400000000000006" fill="#080808"/>
<line x1="469.95" y1="184" x2="469.95" y2="240" stroke="#2a2a2a" stroke-width="0.75"/>
<rect x="468.90" y="189" width="2.1" height="45" fill="#e6e6e6" stroke="#333" stroke-width="0.55"/>
<line x1="473.16" y1="168" x2="473.16" y2="202" stroke="#2a2a2a" stroke-width="0.75"/>
<rect x="472.11" y="176" width="2.1" height="21" fill="#e6e6e6" stroke="#333" stroke-width="0.55"/>
<line x1="476.37" y1="157" x2="476.37" y2="188" stroke="#2a2a2a" stroke-width="0.75"/>
<rect x="475.32" y="177" width="2.1" height="3" fill="#e6e6e6" stroke="#333" stroke-width="0.55"/>
<line x1="479.58" y1="118" x2="479.58" y2="188" stroke="#2a2a2a" stroke-width="0.75"/>
<rect x="478.53" y="128" width="2.1" height="59" fill="#e6e6e6" stroke="#333" stroke-width="0.55"/>
<line x1="482.79" y1="126" x2="482.79" y2="159" stroke="#2a2a2a" stroke-width="0.75"/>
<rect x="481.34" y="130" width="2.9" height="27" fill="#080808"/>
<line x1="486.00" y1="150" x2="486.00" y2="172" stroke="#2a2a2a" stroke-width="0.75"/>
<rect x="484.55" y="157" width="2.9" height="9" fill="#080808"/>
<line x1="489.20" y1="142" x2="489.20" y2="169" stroke="#2a2a2a" stroke-width="0.75"/>
<rect x="488.15" y="160" width="2.1" height="4" fill="#e6e6e6" stroke="#333" stroke-width="0.55"/>
<line x1="492.41" y1="136" x2="492.41" y2="164" stroke="#2a2a2a" stroke-width="0.75"/>
<rect x="491.36" y="145" width="2.1" height="18" fill="#e6e6e6" stroke="#333" stroke-width="0.55"/>
<line x1="495.62" y1="110" x2="495.62" y2="164" stroke="#2a2a2a" stroke-width="0.75"/>
<rect x="494.17" y="144" width="2.9" height="12" fill="#080808"/>
<line x1="498.83" y1="142" x2="498.83" y2="164" stroke="#2a2a2a" stroke-width="0.75"/>
<rect x="497.78" y="145" width="2.1" height="11" fill="#e6e6e6" stroke="#333" stroke-width="0.55"/>
<line x1="502.04" y1="126" x2="502.04" y2="150" stroke="#2a2a2a" stroke-width="0.75"/>
<rect x="500.99" y="140" width="2.1" height="7" fill="#e6e6e6" stroke="#333" stroke-width="0.55"/>
<line x1="505.25" y1="132" x2="505.25" y2="152" stroke="#2a2a2a" stroke-width="0.75"/>
<rect x="504.20" y="136" width="2.1" height="14" fill="#e6e6e6" stroke="#333" stroke-width="0.55"/>
<line x1="508.46" y1="126" x2="508.46" y2="169" stroke="#2a2a2a" stroke-width="0.75"/>
<rect x="507.01" y="137" width="2.9" height="8" fill="#080808"/>
<line x1="511.66" y1="131" x2="511.66" y2="161" stroke="#2a2a2a" stroke-width="0.75"/>
<rect x="510.61" y="137" width="2.1" height="17" fill="#e6e6e6" stroke="#333" stroke-width="0.55"/>
<line x1="514.87" y1="119" x2="514.87" y2="145" stroke="#2a2a2a" stroke-width="0.75"/>
<rect x="513.82" y="125" width="2.1" height="17" fill="#e6e6e6" stroke="#333" stroke-width="0.55"/>
<line x1="518.08" y1="94" x2="518.08" y2="131" stroke="#2a2a2a" stroke-width="0.75"/>
<rect x="517.03" y="95" width="2.1" height="35" fill="#e6e6e6" stroke="#333" stroke-width="0.55"/>
<line x1="521.29" y1="89" x2="521.29" y2="104" stroke="#2a2a2a" stroke-width="0.75"/>
<rect x="519.84" y="95" width="2.9" height="2" fill="#080808"/>
<line x1="524.50" y1="72" x2="524.50" y2="102" stroke="#2a2a2a" stroke-width="0.75"/>
<rect x="523.45" y="77" width="2.1" height="18" fill="#e6e6e6" stroke="#333" stroke-width="0.55"/>
<line x1="527.71" y1="58" x2="527.71" y2="95" stroke="#2a2a2a" stroke-width="0.75"/>
<rect x="526.26" y="74" width="2.9" height="21" fill="#080808"/>
<line x1="530.92" y1="92" x2="530.92" y2="126" stroke="#2a2a2a" stroke-width="0.75"/>
<rect x="529.47" y="94" width="2.9" height="31" fill="#080808"/>
<line x1="534.12" y1="76" x2="534.12" y2="127.5" stroke="#2a2a2a" stroke-width="0.75"/>
<rect x="533.07" y="97" width="2.1" height="27.799999999999997" fill="#e6e6e6" stroke="#333" stroke-width="0.55"/>
<line x1="537.33" y1="90" x2="537.33" y2="122" stroke="#2a2a2a" stroke-width="0.75"/>
<rect x="536.28" y="96" width="2.1" height="25" fill="#e6e6e6" stroke="#333" stroke-width="0.55"/>
<line x1="540.54" y1="85" x2="540.54" y2="122" stroke="#2a2a2a" stroke-width="0.75"/>
<rect x="539.49" y="91" width="2.1" height="6" fill="#e6e6e6" stroke="#333" stroke-width="0.55"/>
<line x1="543.75" y1="75" x2="543.75" y2="117" stroke="#2a2a2a" stroke-width="0.75"/>
<rect x="542.30" y="95" width="2.9" height="3" fill="#080808"/>
<line x1="546.96" y1="95" x2="546.96" y2="135" stroke="#2a2a2a" stroke-width="0.75"/>
<rect x="545.51" y="104" width="2.9" height="25" fill="#080808"/>
<line x1="550.17" y1="98.7" x2="550.17" y2="134" stroke="#2a2a2a" stroke-width="0.75"/>
<rect x="549.12" y="104" width="2.1" height="29.19999999999999" fill="#e6e6e6" stroke="#333" stroke-width="0.55"/>
<line x1="553.38" y1="102" x2="553.38" y2="129" stroke="#2a2a2a" stroke-width="0.75"/>
<rect x="551.93" y="112" width="2.9" height="12" fill="#080808"/>
<line x1="556.58" y1="120.4" x2="556.58" y2="144.7" stroke="#2a2a2a" stroke-width="0.75"/>
<rect x="555.13" y="123" width="2.9" height="16.30000000000001" fill="#080808"/>
<line x1="559.79" y1="112.2" x2="559.79" y2="152.8" stroke="#2a2a2a" stroke-width="0.75"/>
<rect x="558.74" y="115.6" width="2.1" height="31.099999999999994" fill="#e6e6e6" stroke="#333" stroke-width="0.55"/>
<line x1="563.00" y1="102" x2="563.00" y2="119" stroke="#2a2a2a" stroke-width="0.75"/>
<rect x="561.95" y="105" width="2.1" height="11" fill="#e6e6e6" stroke="#333" stroke-width="0.55"/>
<line x1="566.21" y1="98.7" x2="566.21" y2="140.7" stroke="#2a2a2a" stroke-width="0.75"/>
<rect x="564.76" y="102.8" width="2.9" height="33.10000000000001" fill="#080808"/>
<line x1="569.42" y1="111" x2="569.42" y2="147" stroke="#2a2a2a" stroke-width="0.75"/>
<rect x="568.37" y="139" width="2.1" height="3" fill="#e6e6e6" stroke="#333" stroke-width="0.55"/>
<line x1="572.63" y1="127" x2="572.63" y2="156" stroke="#2a2a2a" stroke-width="0.75"/>
<rect x="571.18" y="141" width="2.9" height="13" fill="#080808"/>
<line x1="575.84" y1="122" x2="575.84" y2="157" stroke="#2a2a2a" stroke-width="0.75"/>
<rect x="574.79" y="136" width="2.1" height="18" fill="#e6e6e6" stroke="#333" stroke-width="0.55"/>
<line x1="579.04" y1="121" x2="579.04" y2="148" stroke="#2a2a2a" stroke-width="0.75"/>
<rect x="577.59" y="139" width="2.9" height="7" fill="#080808"/>
<line x1="582.25" y1="120" x2="582.25" y2="161" stroke="#2a2a2a" stroke-width="0.75"/>
<rect x="581.20" y="145" width="2.1" height="4" fill="#e6e6e6" stroke="#333" stroke-width="0.55"/>
<line x1="585.46" y1="131" x2="585.46" y2="157" stroke="#2a2a2a" stroke-width="0.75"/>
<rect x="584.41" y="142" width="2.1" height="5" fill="#e6e6e6" stroke="#333" stroke-width="0.55"/>
<line x1="588.67" y1="114" x2="588.67" y2="161" stroke="#2a2a2a" stroke-width="0.75"/>
<rect x="587.62" y="132" width="2.1" height="14" fill="#e6e6e6" stroke="#333" stroke-width="0.55"/>
<line x1="591.88" y1="124" x2="591.88" y2="173" stroke="#2a2a2a" stroke-width="0.75"/>
<rect x="590.43" y="132" width="2.9" height="8" fill="#080808"/>
<line x1="595.09" y1="130" x2="595.09" y2="149" stroke="#2a2a2a" stroke-width="0.75"/>
<rect x="594.04" y="131" width="2.1" height="9" fill="#e6e6e6" stroke="#333" stroke-width="0.55"/>
<line x1="598.30" y1="132" x2="598.30" y2="160" stroke="#2a2a2a" stroke-width="0.75"/>
<rect x="596.85" y="137" width="2.9" height="8" fill="#080808"/>
<line x1="601.50" y1="121" x2="601.50" y2="149" stroke="#2a2a2a" stroke-width="0.75"/>
<rect x="600.05" y="139" width="2.9" height="8" fill="#080808"/>
<line x1="604.71" y1="125" x2="604.71" y2="149" stroke="#2a2a2a" stroke-width="0.75"/>
<rect x="603.66" y="130" width="2.1" height="17" fill="#e6e6e6" stroke="#333" stroke-width="0.55"/>
<line x1="607.92" y1="85.3" x2="607.92" y2="135" stroke="#2a2a2a" stroke-width="0.75"/>
<rect x="606.87" y="92" width="2.1" height="42" fill="#e6e6e6" stroke="#333" stroke-width="0.55"/>
<line x1="611.13" y1="87" x2="611.13" y2="107" stroke="#2a2a2a" stroke-width="0.75"/>
<rect x="609.68" y="91" width="2.9" height="8" fill="#080808"/>
<line x1="614.34" y1="53.5" x2="614.34" y2="101.6" stroke="#2a2a2a" stroke-width="0.75"/>
<rect x="613.19" y="56.2" width="2.3" height="44.7" fill="#fafafa" stroke="#3a3a3a" stroke-width="0.6"/>
<line x1="617.55" y1="40" x2="617.55" y2="85.3" stroke="#2a2a2a" stroke-width="0.75"/>
<rect x="616.10" y="73.2" width="2.9" height="10.799999999999997" fill="#080808"/>
<path d="M107.5,221.1 l2.4,2.9 h-1.4 v2.6 h-2 v-2.6 h-1.4 z" fill="#1c7f1c"/>
<path d="M251.7,294.1 l2.4,2.9 h-1.4 v2.6 h-2 v-2.6 h-1.4 z" fill="#1c7f1c"/>
<path d="M271,259.1 l2.4,2.9 h-1.4 v2.6 h-2 v-2.6 h-1.4 z" fill="#1c7f1c"/>
<path d="M479.5,146.1 l2.4,2.9 h-1.4 v2.6 h-2 v-2.6 h-1.4 z" fill="#1c7f1c"/>
<path d="M524.9,77.1 l2.4,2.9 h-1.4 v2.6 h-2 v-2.6 h-1.4 z" fill="#1c7f1c"/>
<path d="M607.5,102.1 l2.4,2.9 h-1.4 v2.6 h-2 v-2.6 h-1.4 z" fill="#1c7f1c"/>
<path d="M614,80.69999999999999 l2.4,2.9 h-1.4 v2.6 h-2 v-2.6 h-1.4 z" fill="#1c7f1c"/>
<path d="M87.8,289.5 l2.3,-2.6 h-1.4 v-2.0 h-1.8 v2.0 h-1.4 z" fill="#c81e1e"/>
<path d="M129.5,315.5 l2.3,-2.6 h-1.4 v-2.0 h-1.8 v2.0 h-1.4 z" fill="#c81e1e"/>
<path d="M454,235.5 l2.3,-2.6 h-1.4 v-2.0 h-1.8 v2.0 h-1.4 z" fill="#c81e1e"/>
<line x1="1" y1="59.6" x2="993" y2="59.6" stroke="#f81c1c" stroke-width="1.3"/>
<line x1="1" y1="116.7" x2="993" y2="116.7" stroke="#f81c1c" stroke-width="1.3"/>
<ellipse cx="314.8" cy="63.2" rx="21.3" ry="23.1" fill="rgba(245,30,30,0.13)" stroke="#f01a1a" stroke-width="1.5"/>
<ellipse cx="525.75" cy="62.0" rx="22.6" ry="23.0" fill="rgba(245,30,30,0.13)" stroke="#f01a1a" stroke-width="1.5"/>
<ellipse cx="617.9" cy="61.6" rx="21.2" ry="21.2" fill="rgba(245,30,30,0.13)" stroke="#f01a1a" stroke-width="1.5"/>
<line x1="618.4" y1="85.3" x2="631.5" y2="112.5" stroke="#222" stroke-width="0.9"/>
<path d="M633.8,117.2 L628.2,112.6 L633.6,109.9 Z" fill="#111"/>
<circle cx="13.75" cy="233" r="5.1" fill="#fff" stroke="#4a4a4a" stroke-width="0.7"/>
<text class="s" x="13.75" y="235.19" font-size="7.3" font-weight="bold" text-anchor="middle" fill="#000">iii</text>
<circle cx="17.5" cy="283.75" r="5.1" fill="#fff" stroke="#4a4a4a" stroke-width="0.7"/>
<text class="s" x="17.5" y="285.94" font-size="7.3" font-weight="bold" text-anchor="middle" fill="#000">iv</text>
<circle cx="33.4" cy="211" r="5.1" fill="#fff" stroke="#4a4a4a" stroke-width="0.7"/>
<text class="s" x="33.4" y="213.64" font-size="8.8" font-weight="bold" text-anchor="middle" fill="#000">v</text>
<text x="33.6" y="202.6" font-size="10.3" text-anchor="middle" font-weight="normal" fill="#000" stroke="#000" stroke-width="0.3">3</text>
<circle cx="91" cy="305" r="5.1" fill="#fff" stroke="#4a4a4a" stroke-width="0.7"/>
<text class="s" x="91" y="307.64" font-size="8.8" font-weight="bold" text-anchor="middle" fill="#000">a</text>
<circle cx="110.75" cy="193" r="5.1" fill="#fff" stroke="#4a4a4a" stroke-width="0.7"/>
<text class="s" x="110.75" y="195.64" font-size="8.8" font-weight="bold" text-anchor="middle" fill="#000">b</text>
<circle cx="193.75" cy="358" r="5.1" fill="#fff" stroke="#4a4a4a" stroke-width="0.7"/>
<text class="s" x="193.75" y="360.64" font-size="8.8" font-weight="bold" text-anchor="middle" fill="#000">c</text>
<text x="193.75" y="374" font-size="10.3" text-anchor="middle" font-weight="normal" fill="#000" stroke="#000" stroke-width="0.3">4</text>
<circle cx="244.7" cy="287" r="5.1" fill="#fff" stroke="#4a4a4a" stroke-width="0.7"/>
<text class="s" x="244.7" y="289.64" font-size="8.8" font-weight="bold" text-anchor="middle" fill="#000">i</text>
<circle cx="248.3" cy="335.3" r="5.1" fill="#fff" stroke="#4a4a4a" stroke-width="0.7"/>
<text class="s" x="248.3" y="337.49" font-size="7.3" font-weight="bold" text-anchor="middle" fill="#000">ii</text>
<circle cx="254.7" cy="268" r="5.1" fill="#fff" stroke="#4a4a4a" stroke-width="0.7"/>
<text class="s" x="254.7" y="270.19" font-size="7.3" font-weight="bold" text-anchor="middle" fill="#000">iii</text>
<circle cx="264.7" cy="309.7" r="5.1" fill="#fff" stroke="#4a4a4a" stroke-width="0.7"/>
<text class="s" x="264.7" y="311.89" font-size="7.3" font-weight="bold" text-anchor="middle" fill="#000">iv</text>
<circle cx="313.2" cy="38" r="4.6" fill="#fff" stroke="#4a4a4a" stroke-width="0.7"/>
<text class="s" x="313.2" y="40.19" font-size="7.3" font-weight="bold" text-anchor="middle" fill="#000">v</text>
<text x="313.2" y="29" font-size="9.6" text-anchor="middle" font-weight="normal" fill="#000" stroke="#000" stroke-width="0.1">5</text>
<text x="313" y="17" font-size="10.6" text-anchor="middle" font-weight="normal" fill="#000" stroke="#000" stroke-width="0.05">(1)</text>
<text x="335.5" y="246" font-size="10.3" text-anchor="middle" font-weight="normal" fill="#000" stroke="#000" stroke-width="0.3">A</text>
<circle cx="341.5" cy="187" r="5.1" fill="#fff" stroke="#4a4a4a" stroke-width="0.7"/>
<text class="s" x="341.5" y="189.64" font-size="8.8" font-weight="bold" text-anchor="middle" fill="#000">a</text>
<circle cx="348" cy="232" r="5.1" fill="#fff" stroke="#4a4a4a" stroke-width="0.7"/>
<text class="s" x="348" y="234.64" font-size="8.8" font-weight="bold" text-anchor="middle" fill="#000">b</text>
<text x="358" y="124.4" font-size="9.6" text-anchor="middle" font-weight="normal" fill="#000" stroke="#000" stroke-width="0.3">B</text>
<circle cx="357" cy="134" r="5.1" fill="#fff" stroke="#4a4a4a" stroke-width="0.7"/>
<text class="s" x="357" y="136.64" font-size="8.8" font-weight="bold" text-anchor="middle" fill="#000">c</text>
<text x="389.3" y="274" font-size="10.3" text-anchor="middle" font-weight="normal" fill="#000" stroke="#000" stroke-width="0.3">C</text>
<text x="389.3" y="287" font-size="10.6" text-anchor="middle" font-weight="normal" fill="#000" stroke="#000" stroke-width="0.1">(2)</text>
<circle cx="438" cy="165" r="5.1" fill="#fff" stroke="#4a4a4a" stroke-width="0.7"/>
<text class="s" x="438" y="167.64" font-size="8.8" font-weight="bold" text-anchor="middle" fill="#000">i</text>
<circle cx="456.75" cy="264.5" r="5.1" fill="#fff" stroke="#4a4a4a" stroke-width="0.7"/>
<text class="s" x="456.75" y="266.69" font-size="7.3" font-weight="bold" text-anchor="middle" fill="#000">ii</text>
<circle cx="495.5" cy="105" r="5.1" fill="#fff" stroke="#4a4a4a" stroke-width="0.7"/>
<text class="s" x="495.5" y="107.19" font-size="7.3" font-weight="bold" text-anchor="middle" fill="#000">iii</text>
<circle cx="508.5" cy="174.7" r="5.1" fill="#fff" stroke="#4a4a4a" stroke-width="0.7"/>
<text class="s" x="508.5" y="176.89" font-size="7.3" font-weight="bold" text-anchor="middle" fill="#000">iv</text>
<circle cx="527.5" cy="53.25" r="5.1" fill="#fff" stroke="#4a4a4a" stroke-width="0.7"/>
<text class="s" x="527.5" y="55.89" font-size="8.8" font-weight="bold" text-anchor="middle" fill="#000">v</text>
<text x="528.3" y="43.5" font-size="10.3" text-anchor="middle" font-weight="bold" fill="#000" stroke="#000" stroke-width="0.3">1</text>
<circle cx="559.8" cy="158.7" r="5.1" fill="#fff" stroke="#4a4a4a" stroke-width="0.7"/>
<text class="s" x="559.8" y="161.34" font-size="8.8" font-weight="bold" text-anchor="middle" fill="#000">a</text>
<circle cx="566.25" cy="93.75" r="5.1" fill="#fff" stroke="#4a4a4a" stroke-width="0.7"/>
<text class="s" x="566.25" y="96.39" font-size="8.8" font-weight="bold" text-anchor="middle" fill="#000">b</text>
<circle cx="591.7" cy="178.7" r="5.1" fill="#fff" stroke="#4a4a4a" stroke-width="0.7"/>
<text class="s" x="591.7" y="181.34" font-size="8.8" font-weight="bold" text-anchor="middle" fill="#000">c</text>
<text x="592.3" y="194.6" font-size="10.3" text-anchor="middle" font-weight="normal" fill="#000" stroke="#000" stroke-width="0.3">2</text>
<rect x="927" y="0.5" width="64.5" height="64" fill="#ee262c"/>
<line x1="927" y1="59.6" x2="991.5" y2="59.6" stroke="#d81820" stroke-width="1.4"/>
<text class="s" x="959.3" y="34" font-size="17.5" text-anchor="middle" fill="#fff" stroke="#fff" stroke-width="0.6" textLength="44.5" lengthAdjust="spacingAndGlyphs">FxPro</text>
<text x="959.3" y="42.3" font-size="6" text-anchor="middle" fill="#fff" textLength="44.5" lengthAdjust="spacingAndGlyphs">Trade Like a Pro</text>
<text x="3.9" y="9" font-size="7" font-weight="bold" fill="#222" textLength="52.4" lengthAdjust="spacingAndGlyphs">GBPNZD - 1 day</text>
<text x="4.8" y="18.4" font-size="6" fill="#f02828" textLength="46" lengthAdjust="spacingAndGlyphs">BB(20,20,2.0,2.0)</text>
<rect x="0" y="0" width="1024" height="1" fill="#555"/>
<rect x="0" y="0" width="0.75" height="473" fill="#333"/>
<rect x="1022.8" y="0" width="1.2" height="473" fill="#444"/>
<rect x="0" y="471.6" width="1024" height="1.4" fill="#555"/>
<path d="M993.6,0 V412.6 H0" fill="none" stroke="#c4c2b4" stroke-width="0.9"/>
<path d="M0,414.7 H996.5" fill="none" stroke="#6a6a6a" stroke-width="1"/>
<line x1="996.5" y1="0" x2="996.5" y2="415.2" stroke="#333" stroke-width="1"/>
<line x1="0" y1="424.5" x2="1024" y2="424.5" stroke="#444" stroke-width="1"/>
<line x1="994.8" y1="2.54" x2="996.5" y2="2.54" stroke="#444" stroke-width="0.7"/>
<line x1="994.8" y1="7.28" x2="996.5" y2="7.28" stroke="#444" stroke-width="0.7"/>
<line x1="994.8" y1="12.02" x2="996.5" y2="12.02" stroke="#444" stroke-width="0.7"/>
<line x1="994.8" y1="16.76" x2="996.5" y2="16.76" stroke="#444" stroke-width="0.7"/>
<line x1="993.5" y1="21.50" x2="996.5" y2="21.50" stroke="#444" stroke-width="0.7"/>
<text x="998" y="24.00" font-size="6.6" fill="#2a2a2a" textLength="24.2" lengthAdjust="spacingAndGlyphs">2.20000</text>
<line x1="994.8" y1="26.24" x2="996.5" y2="26.24" stroke="#444" stroke-width="0.7"/>
<line x1="994.8" y1="30.98" x2="996.5" y2="30.98" stroke="#444" stroke-width="0.7"/>
<line x1="994.8" y1="35.72" x2="996.5" y2="35.72" stroke="#444" stroke-width="0.7"/>
<line x1="994.8" y1="40.46" x2="996.5" y2="40.46" stroke="#444" stroke-width="0.7"/>
<line x1="993.5" y1="45.20" x2="996.5" y2="45.20" stroke="#444" stroke-width="0.7"/>
<text x="998" y="47.70" font-size="6.6" fill="#2a2a2a" textLength="24.2" lengthAdjust="spacingAndGlyphs">2.19000</text>
<line x1="994.8" y1="49.94" x2="996.5" y2="49.94" stroke="#444" stroke-width="0.7"/>
<line x1="994.8" y1="54.68" x2="996.5" y2="54.68" stroke="#444" stroke-width="0.7"/>
<line x1="994.8" y1="59.42" x2="996.5" y2="59.42" stroke="#444" stroke-width="0.7"/>
<line x1="994.8" y1="64.16" x2="996.5" y2="64.16" stroke="#444" stroke-width="0.7"/>
<line x1="993.5" y1="68.90" x2="996.5" y2="68.90" stroke="#444" stroke-width="0.7"/>
<text x="998" y="71.40" font-size="6.6" fill="#2a2a2a" textLength="24.2" lengthAdjust="spacingAndGlyphs">2.18000</text>
<line x1="994.8" y1="73.64" x2="996.5" y2="73.64" stroke="#444" stroke-width="0.7"/>
<line x1="994.8" y1="78.38" x2="996.5" y2="78.38" stroke="#444" stroke-width="0.7"/>
<line x1="994.8" y1="83.12" x2="996.5" y2="83.12" stroke="#444" stroke-width="0.7"/>
<line x1="994.8" y1="87.86" x2="996.5" y2="87.86" stroke="#444" stroke-width="0.7"/>
<line x1="993.5" y1="92.60" x2="996.5" y2="92.60" stroke="#444" stroke-width="0.7"/>
<text x="998" y="95.10" font-size="6.6" fill="#2a2a2a" textLength="24.2" lengthAdjust="spacingAndGlyphs">2.17000</text>
<line x1="994.8" y1="97.34" x2="996.5" y2="97.34" stroke="#444" stroke-width="0.7"/>
<line x1="994.8" y1="102.08" x2="996.5" y2="102.08" stroke="#444" stroke-width="0.7"/>
<line x1="994.8" y1="106.82" x2="996.5" y2="106.82" stroke="#444" stroke-width="0.7"/>
<line x1="994.8" y1="111.56" x2="996.5" y2="111.56" stroke="#444" stroke-width="0.7"/>
<line x1="993.5" y1="116.30" x2="996.5" y2="116.30" stroke="#444" stroke-width="0.7"/>
<text x="998" y="118.80" font-size="6.6" fill="#2a2a2a" textLength="24.2" lengthAdjust="spacingAndGlyphs">2.16000</text>
<line x1="994.8" y1="121.04" x2="996.5" y2="121.04" stroke="#444" stroke-width="0.7"/>
<line x1="994.8" y1="125.78" x2="996.5" y2="125.78" stroke="#444" stroke-width="0.7"/>
<line x1="994.8" y1="130.52" x2="996.5" y2="130.52" stroke="#444" stroke-width="0.7"/>
<line x1="994.8" y1="135.26" x2="996.5" y2="135.26" stroke="#444" stroke-width="0.7"/>
<line x1="993.5" y1="140.00" x2="996.5" y2="140.00" stroke="#444" stroke-width="0.7"/>
<text x="998" y="142.50" font-size="6.6" fill="#2a2a2a" textLength="24.2" lengthAdjust="spacingAndGlyphs">2.15000</text>
<line x1="994.8" y1="144.74" x2="996.5" y2="144.74" stroke="#444" stroke-width="0.7"/>
<line x1="994.8" y1="149.48" x2="996.5" y2="149.48" stroke="#444" stroke-width="0.7"/>
<line x1="994.8" y1="154.22" x2="996.5" y2="154.22" stroke="#444" stroke-width="0.7"/>
<line x1="994.8" y1="158.96" x2="996.5" y2="158.96" stroke="#444" stroke-width="0.7"/>
<line x1="993.5" y1="163.70" x2="996.5" y2="163.70" stroke="#444" stroke-width="0.7"/>
<text x="998" y="166.20" font-size="6.6" fill="#2a2a2a" textLength="24.2" lengthAdjust="spacingAndGlyphs">2.14000</text>
<line x1="994.8" y1="168.44" x2="996.5" y2="168.44" stroke="#444" stroke-width="0.7"/>
<line x1="994.8" y1="173.18" x2="996.5" y2="173.18" stroke="#444" stroke-width="0.7"/>
<line x1="994.8" y1="177.92" x2="996.5" y2="177.92" stroke="#444" stroke-width="0.7"/>
<line x1="994.8" y1="182.66" x2="996.5" y2="182.66" stroke="#444" stroke-width="0.7"/>
<line x1="993.5" y1="187.40" x2="996.5" y2="187.40" stroke="#444" stroke-width="0.7"/>
<text x="998" y="189.90" font-size="6.6" fill="#2a2a2a" textLength="24.2" lengthAdjust="spacingAndGlyphs">2.13000</text>
<line x1="994.8" y1="192.14" x2="996.5" y2="192.14" stroke="#444" stroke-width="0.7"/>
<line x1="994.8" y1="196.88" x2="996.5" y2="196.88" stroke="#444" stroke-width="0.7"/>
<line x1="994.8" y1="201.62" x2="996.5" y2="201.62" stroke="#444" stroke-width="0.7"/>
<line x1="994.8" y1="206.36" x2="996.5" y2="206.36" stroke="#444" stroke-width="0.7"/>
<line x1="993.5" y1="211.10" x2="996.5" y2="211.10" stroke="#444" stroke-width="0.7"/>
<text x="998" y="213.60" font-size="6.6" fill="#2a2a2a" textLength="24.2" lengthAdjust="spacingAndGlyphs">2.12000</text>
<line x1="994.8" y1="215.84" x2="996.5" y2="215.84" stroke="#444" stroke-width="0.7"/>
<line x1="994.8" y1="220.58" x2="996.5" y2="220.58" stroke="#444" stroke-width="0.7"/>
<line x1="994.8" y1="225.32" x2="996.5" y2="225.32" stroke="#444" stroke-width="0.7"/>
<line x1="994.8" y1="230.06" x2="996.5" y2="230.06" stroke="#444" stroke-width="0.7"/>
<line x1="993.5" y1="234.80" x2="996.5" y2="234.80" stroke="#444" stroke-width="0.7"/>
<text x="998" y="237.30" font-size="6.6" fill="#2a2a2a" textLength="24.2" lengthAdjust="spacingAndGlyphs">2.11000</text>
<line x1="994.8" y1="239.54" x2="996.5" y2="239.54" stroke="#444" stroke-width="0.7"/>
<line x1="994.8" y1="244.28" x2="996.5" y2="244.28" stroke="#444" stroke-width="0.7"/>
<line x1="994.8" y1="249.02" x2="996.5" y2="249.02" stroke="#444" stroke-width="0.7"/>
<line x1="994.8" y1="253.76" x2="996.5" y2="253.76" stroke="#444" stroke-width="0.7"/>
<line x1="993.5" y1="258.50" x2="996.5" y2="258.50" stroke="#444" stroke-width="0.7"/>
<text x="998" y="261.00" font-size="6.6" fill="#2a2a2a" textLength="24.2" lengthAdjust="spacingAndGlyphs">2.10000</text>
<line x1="994.8" y1="263.24" x2="996.5" y2="263.24" stroke="#444" stroke-width="0.7"/>
<line x1="994.8" y1="267.98" x2="996.5" y2="267.98" stroke="#444" stroke-width="0.7"/>
<line x1="994.8" y1="272.72" x2="996.5" y2="272.72" stroke="#444" stroke-width="0.7"/>
<line x1="994.8" y1="277.46" x2="996.5" y2="277.46" stroke="#444" stroke-width="0.7"/>
<line x1="993.5" y1="282.20" x2="996.5" y2="282.20" stroke="#444" stroke-width="0.7"/>
<text x="998" y="284.70" font-size="6.6" fill="#2a2a2a" textLength="24.2" lengthAdjust="spacingAndGlyphs">2.09000</text>
<line x1="994.8" y1="286.94" x2="996.5" y2="286.94" stroke="#444" stroke-width="0.7"/>
<line x1="994.8" y1="291.68" x2="996.5" y2="291.68" stroke="#444" stroke-width="0.7"/>
<line x1="994.8" y1="296.42" x2="996.5" y2="296.42" stroke="#444" stroke-width="0.7"/>
<line x1="994.8" y1="301.16" x2="996.5" y2="301.16" stroke="#444" stroke-width="0.7"/>
<line x1="993.5" y1="305.90" x2="996.5" y2="305.90" stroke="#444" stroke-width="0.7"/>
<text x="998" y="308.40" font-size="6.6" fill="#2a2a2a" textLength="24.2" lengthAdjust="spacingAndGlyphs">2.08000</text>
<line x1="994.8" y1="310.64" x2="996.5" y2="310.64" stroke="#444" stroke-width="0.7"/>
<line x1="994.8" y1="315.38" x2="996.5" y2="315.38" stroke="#444" stroke-width="0.7"/>
<line x1="994.8" y1="320.12" x2="996.5" y2="320.12" stroke="#444" stroke-width="0.7"/>
<line x1="994.8" y1="324.86" x2="996.5" y2="324.86" stroke="#444" stroke-width="0.7"/>
<line x1="993.5" y1="329.60" x2="996.5" y2="329.60" stroke="#444" stroke-width="0.7"/>
<text x="998" y="332.10" font-size="6.6" fill="#2a2a2a" textLength="24.2" lengthAdjust="spacingAndGlyphs">2.07000</text>
<line x1="994.8" y1="334.34" x2="996.5" y2="334.34" stroke="#444" stroke-width="0.7"/>
<line x1="994.8" y1="339.08" x2="996.5" y2="339.08" stroke="#444" stroke-width="0.7"/>
<line x1="994.8" y1="343.82" x2="996.5" y2="343.82" stroke="#444" stroke-width="0.7"/>
<line x1="994.8" y1="348.56" x2="996.5" y2="348.56" stroke="#444" stroke-width="0.7"/>
<line x1="993.5" y1="353.30" x2="996.5" y2="353.30" stroke="#444" stroke-width="0.7"/>
<text x="998" y="355.80" font-size="6.6" fill="#2a2a2a" textLength="24.2" lengthAdjust="spacingAndGlyphs">2.06000</text>
<line x1="994.8" y1="358.04" x2="996.5" y2="358.04" stroke="#444" stroke-width="0.7"/>
<line x1="994.8" y1="362.78" x2="996.5" y2="362.78" stroke="#444" stroke-width="0.7"/>
<line x1="994.8" y1="367.52" x2="996.5" y2="367.52" stroke="#444" stroke-width="0.7"/>
<line x1="994.8" y1="372.26" x2="996.5" y2="372.26" stroke="#444" stroke-width="0.7"/>
<line x1="993.5" y1="377.00" x2="996.5" y2="377.00" stroke="#444" stroke-width="0.7"/>
<text x="998" y="379.50" font-size="6.6" fill="#2a2a2a" textLength="24.2" lengthAdjust="spacingAndGlyphs">2.05000</text>
<line x1="994.8" y1="381.74" x2="996.5" y2="381.74" stroke="#444" stroke-width="0.7"/>
<line x1="994.8" y1="386.48" x2="996.5" y2="386.48" stroke="#444" stroke-width="0.7"/>
<line x1="994.8" y1="391.22" x2="996.5" y2="391.22" stroke="#444" stroke-width="0.7"/>
<line x1="994.8" y1="395.96" x2="996.5" y2="395.96" stroke="#444" stroke-width="0.7"/>
<line x1="993.5" y1="400.70" x2="996.5" y2="400.70" stroke="#444" stroke-width="0.7"/>
<text x="998" y="403.20" font-size="6.6" fill="#2a2a2a" textLength="24.2" lengthAdjust="spacingAndGlyphs">2.04000</text>
<line x1="994.8" y1="405.44" x2="996.5" y2="405.44" stroke="#444" stroke-width="0.7"/>
<line x1="994.8" y1="410.18" x2="996.5" y2="410.18" stroke="#444" stroke-width="0.7"/>
<path d="M993.8,88.5 L997.3,85.2 H1021.5 V91.8 H997.3 Z" fill="#fff" stroke="#e03030" stroke-width="0.6"/>
<text x="998.5" y="90.90" font-size="6.6" fill="#e03030" textLength="23" lengthAdjust="spacingAndGlyphs">2.16859</text>
<path d="M993.8,42 L997.3,38.7 H1021.5 V45.3 H997.3 Z" fill="#c9d9e2" stroke="#9ab" stroke-width="0.6"/>
<text x="998.5" y="44.40" font-size="6.6" fill="#222" textLength="23" lengthAdjust="spacingAndGlyphs">2.19138</text>
<path d="M993.8,84.6 L997.3,81.3 H1021.5 V87.89999999999999 H997.3 Z" fill="#fff" stroke="#444" stroke-width="0.6"/>
<text x="998.5" y="87.00" font-size="6.6" fill="#222" textLength="23" lengthAdjust="spacingAndGlyphs">2.17320</text>
<line x1="40" y1="411.5" x2="40" y2="414.7" stroke="#222" stroke-width="0.9"/>
<text x="39" y="421.7" font-size="6.4" text-anchor="middle" fill="#222">Apr-2024</text>
<line x1="110.5" y1="411.5" x2="110.5" y2="414.7" stroke="#222" stroke-width="0.9"/>
<text x="109.5" y="421.7" font-size="6.4" text-anchor="middle" fill="#222">May-2024</text>
<line x1="184.5" y1="411.5" x2="184.5" y2="414.7" stroke="#222" stroke-width="0.9"/>
<text x="183.5" y="421.7" font-size="6.4" text-anchor="middle" fill="#222">Jun-2024</text>
<line x1="248.5" y1="411.5" x2="248.5" y2="414.7" stroke="#222" stroke-width="0.9"/>
<text x="247.5" y="421.7" font-size="6.4" text-anchor="middle" fill="#222">Jul-2024</text>
<line x1="322.25" y1="411.5" x2="322.25" y2="414.7" stroke="#222" stroke-width="0.9"/>
<text x="321.25" y="421.7" font-size="6.4" text-anchor="middle" fill="#222">Aug-2024</text>
<line x1="392.75" y1="411.5" x2="392.75" y2="414.7" stroke="#222" stroke-width="0.9"/>
<text x="391.75" y="421.7" font-size="6.4" text-anchor="middle" fill="#222">Sep-2024</text>
<line x1="460.5" y1="411.5" x2="460.5" y2="414.7" stroke="#222" stroke-width="0.9"/>
<text x="459.5" y="421.7" font-size="6.4" text-anchor="middle" fill="#222">Oct-2024</text>
<line x1="534.5" y1="411.5" x2="534.5" y2="414.7" stroke="#222" stroke-width="0.9"/>
<text x="533.5" y="421.7" font-size="6.4" text-anchor="middle" fill="#222">Nov-2024</text>
<line x1="601.5" y1="411.5" x2="601.5" y2="414.7" stroke="#222" stroke-width="0.9"/>
<text x="600.5" y="421.7" font-size="6.4" text-anchor="middle" fill="#222">Dec-2024</text>
<line x1="633.5" y1="411.5" x2="633.5" y2="414.7" stroke="#222" stroke-width="0.9"/>
<text x="632.5" y="421.7" font-size="6.4" text-anchor="middle" fill="#222">Dec-14</text>
<line x1="691.5" y1="411.5" x2="691.5" y2="414.7" stroke="#222" stroke-width="0.9"/>
<text x="690.5" y="421.7" font-size="6.4" text-anchor="middle" fill="#222">Jan-2025</text>
<line x1="723.5" y1="411.5" x2="723.5" y2="414.7" stroke="#222" stroke-width="0.9"/>
<text x="722.5" y="421.7" font-size="6.4" text-anchor="middle" fill="#222">Jan-11</text>
<line x1="791.25" y1="411.5" x2="791.25" y2="414.7" stroke="#222" stroke-width="0.9"/>
<text x="790.25" y="421.7" font-size="6.4" text-anchor="middle" fill="#222">Feb-2025</text>
<line x1="823.5" y1="411.5" x2="823.5" y2="414.7" stroke="#222" stroke-width="0.9"/>
<text x="822.5" y="421.7" font-size="6.4" text-anchor="middle" fill="#222">Feb-11</text>
<line x1="880.5" y1="411.5" x2="880.5" y2="414.7" stroke="#222" stroke-width="0.9"/>
<text x="879.5" y="421.7" font-size="6.4" text-anchor="middle" fill="#222">Mar-2025</text>
<line x1="913" y1="411.5" x2="913" y2="414.7" stroke="#222" stroke-width="0.9"/>
<text x="912" y="421.7" font-size="6.4" text-anchor="middle" fill="#222">Mar-11</text>
<line x1="980" y1="411.5" x2="980" y2="414.7" stroke="#222" stroke-width="0.9"/>
<line x1="1" y1="435.5" x2="994" y2="435.5" stroke="#333" stroke-width="0.8" />
<line x1="1" y1="449.4" x2="994" y2="449.4" stroke="#333" stroke-width="0.8" stroke-dasharray="2 1.6"/>
<line x1="1" y1="463.4" x2="994" y2="463.4" stroke="#333" stroke-width="0.8" />
<line x1="993.7" y1="425" x2="993.7" y2="472" stroke="#bbb" stroke-width="0.8"/>
<line x1="996.5" y1="425" x2="996.5" y2="472" stroke="#333" stroke-width="1"/>
<line x1="993.7" y1="468.05" x2="996.5" y2="468.05" stroke="#333" stroke-width="0.7"/>
<line x1="993.7" y1="463.40" x2="996.5" y2="463.40" stroke="#333" stroke-width="0.7"/>
<line x1="993.7" y1="458.75" x2="996.5" y2="458.75" stroke="#333" stroke-width="0.7"/>
<line x1="993.7" y1="454.10" x2="996.5" y2="454.10" stroke="#333" stroke-width="0.7"/>
<line x1="993.7" y1="449.45" x2="996.5" y2="449.45" stroke="#333" stroke-width="0.7"/>
<line x1="993.7" y1="444.80" x2="996.5" y2="444.80" stroke="#333" stroke-width="0.7"/>
<line x1="993.7" y1="440.15" x2="996.5" y2="440.15" stroke="#333" stroke-width="0.7"/>
<line x1="993.7" y1="435.50" x2="996.5" y2="435.50" stroke="#333" stroke-width="0.7"/>
<line x1="993.7" y1="430.85" x2="996.5" y2="430.85" stroke="#333" stroke-width="0.7"/>
<line x1="993.7" y1="426.20" x2="996.5" y2="426.20" stroke="#333" stroke-width="0.7"/>
<polyline points="0.0,437.1 5.0,434.6 12.5,433.4 18.8,434.6 25.0,434.6 31.2,433.4 37.5,433.0 43.8,434.6 47.5,439.0 52.5,446.5 56.2,452.8 59.4,457.8 63.8,459.0 68.8,459.0 71.9,454.0 75.0,449.6 78.8,447.1 82.5,446.2 85.6,449.0 88.8,454.0 92.5,455.5 96.2,454.0 100.0,451.5 103.8,450.2 107.5,444.6 110.6,442.1 113.8,444.6 117.5,451.5 121.2,457.8 125.0,463.4 128.0,465.9 131.8,467.8 135.5,465.9 138.6,464.2 142.4,466.5 146.8,469.0 150.5,468.4 154.2,464.0 158.0,458.4 162.4,452.1 166.1,449.6 170.5,450.0 174.2,450.6 178.0,448.4 181.8,450.2 185.5,456.5 189.9,462.8 193.6,465.5 196.1,460.2 199.2,455.2 203.0,451.5 206.8,453.4 210.5,455.9 214.2,457.8 218.0,457.1 221.8,456.5 225.5,456.5 229.2,458.4 233.0,457.1 236.8,455.2 240.5,451.5 244.2,448.4 248.0,444.0 251.8,439.6 256.0,437.1 261.0,437.5 264.8,435.9 268.5,435.5 272.2,432.8 276.6,430.2 281.0,428.4 284.8,428.0 287.9,429.2 291.6,429.6 296.0,428.1 303.5,427.8 312.2,427.1 316.0,429.6 319.1,434.6 321.6,440.2 324.8,446.5 327.9,450.9 331.0,456.5 334.1,461.5 337.2,464.0 341.0,464.6 344.8,465.0 348.5,465.9 351.6,463.4 355.4,459.6 358.5,458.4 362.2,460.9 366.0,462.1 369.8,460.9 373.5,460.2 377.2,459.2 381.0,461.2 384.0,464.0 389.0,467.1 392.8,466.5 396.5,463.4 400.2,459.6 403.4,455.9 406.5,450.2 409.6,445.9 413.4,442.1 417.1,440.9 420.2,439.0 423.4,436.2 427.1,435.2 430.9,435.9 434.6,435.9 438.4,433.4 441.5,435.9 444.0,442.8 447.8,447.1 451.5,452.1 454.6,456.5 457.8,459.6 460.9,458.8 464.0,457.1 467.1,455.9 470.2,450.2 474.0,444.0 477.8,439.0 480.9,435.9 484.0,437.1 487.8,438.0 491.5,437.8 496.5,438.4 501.5,437.5 506.5,436.5 512.0,436.9 515.8,434.6 519.5,432.5 523.9,431.2 527.6,434.0 530.8,439.0 534.5,441.5 538.2,441.9 542.0,441.5 545.8,444.6 549.5,446.2 553.2,449.6 557.0,454.6 560.1,455.9 563.2,454.6 567.0,457.8 570.8,461.2 573.9,463.0 577.0,463.0 580.8,464.2 584.5,464.0 588.2,461.5 592.0,458.4 595.8,455.0 599.5,453.8 602.6,454.0 605.8,450.2 609.5,444.0 614.5,436.2" fill="none" stroke="#b81818" stroke-width="0.75" stroke-linejoin="round" />
<polyline points="0.0,437.8 3.8,434.0 7.5,432.8 12.5,432.8 15.6,433.4 17.5,436.5 20.6,435.2 25.0,433.4 31.2,432.8 37.5,432.8 40.6,434.6 43.8,436.5 46.9,440.2 50.0,447.8 52.5,450.2 56.2,457.8 59.4,464.0 62.5,459.0 65.6,461.2 68.8,458.4 71.9,450.2 75.0,443.4 78.1,445.5 81.9,445.2 85.0,448.4 88.1,459.6 92.5,456.5 96.2,453.4 100.0,450.2 103.8,450.9 107.1,438.4 110.0,439.6 113.1,445.9 116.9,457.1 120.0,461.5 123.8,465.9 128.0,469.6 130.5,470.5 133.6,467.8 136.8,464.2 139.2,464.6 142.4,467.8 146.1,469.6 148.6,469.6 152.4,465.9 156.1,459.0 160.5,451.5 164.9,446.2 168.0,449.6 171.1,449.6 174.9,449.6 177.6,445.9 181.1,450.2 184.9,460.9 187.4,464.0 190.5,465.9 193.6,468.0 194.9,461.5 196.8,451.5 199.9,449.4 203.0,450.2 206.1,454.0 209.9,456.5 213.6,459.6 216.8,457.1 219.9,458.4 222.8,454.0 226.1,456.5 229.5,459.0 233.0,457.1 236.1,454.6 239.2,450.2 242.4,446.8 244.9,445.9 248.0,440.9 251.8,435.9 256.0,435.9 261.0,436.5 264.1,434.6 267.9,435.9 271.6,431.5 276.0,428.8 280.4,427.4 284.1,427.5 287.2,429.6 290.4,430.2 293.5,429.0 297.2,427.8 303.5,427.4 308.5,427.1 312.2,427.1 314.8,429.6 317.9,435.9 320.4,442.8 322.2,449.6 324.8,452.8 327.9,456.5 331.0,463.4 334.1,466.2 337.2,467.1 340.4,465.2 344.1,465.0 347.9,467.5 351.0,462.1 354.8,456.5 357.9,456.8 361.0,460.0 364.1,463.0 367.2,462.8 370.4,460.0 373.5,461.2 376.6,458.4 379.8,460.5 382.2,464.0 384.0,466.5 389.6,468.8 392.8,466.5 395.9,461.5 399.6,456.5 402.8,453.4 405.2,447.1 408.4,442.1 412.1,439.6 415.2,439.4 418.4,440.2 421.5,435.9 424.6,434.2 427.8,435.2 431.5,436.5 434.6,435.9 437.8,431.5 440.9,435.9 442.8,444.0 444.6,452.1 447.4,449.2 450.2,454.6 454.0,460.9 457.1,463.4 460.2,457.8 463.4,455.0 466.5,455.9 469.6,448.4 472.8,439.0 476.5,436.5 479.6,433.1 482.8,436.5 485.9,438.8 489.0,439.0 492.1,437.1 495.9,438.4 499.6,438.0 504.0,436.5 509.0,436.2 512.0,436.5 515.1,434.6 518.2,430.6 523.9,430.2 527.6,435.2 530.8,444.4 534.5,443.4 538.2,442.1 541.4,441.5 544.5,443.4 547.0,449.0 549.5,447.8 552.6,450.2 557.0,460.2 560.1,457.1 563.0,453.6 565.8,457.8 569.5,462.8 572.6,466.2 575.8,463.8 579.5,464.6 584.5,463.4 588.2,459.0 592.0,454.6 595.4,451.5 598.2,453.4 601.4,454.6 604.5,450.9 607.6,440.2 611.4,436.5 614.5,431.9" fill="none" stroke="#0a0a0a" stroke-width="1.0" stroke-linejoin="round" />
<text x="3.5" y="433.8" font-size="6.8" font-weight="bold" fill="#222" textLength="47" lengthAdjust="spacingAndGlyphs">STO Slow(14,3)</text>
<path d="M993.2,435.4 L996.2,431.79999999999995 H1011.8 V439.0 H996.2 Z" fill="#fff" stroke="#444" stroke-width="0.6"/>
<text x="998" y="437.80" font-size="6.6" fill="#222">80.0</text>
<text x="998" y="447.10" font-size="6.6" fill="#222">60.0</text>
<path d="M993.2,432.3 L996.2,428.7 H1011.8 V435.90000000000003 H996.2 Z" fill="#fff" stroke="#444" stroke-width="0.6"/>
<text x="998" y="434.70" font-size="6.6" fill="#222">87.2</text>
<path d="M993.2,449.6 L996.2,446.0 H1011.8 V453.20000000000005 H996.2 Z" fill="#fff" stroke="#444" stroke-width="0.6"/>
<text x="998" y="452.00" font-size="6.6" fill="#222">50.0</text>
<path d="M993.2,464.6 L996.2,460.6 H1011.8 V472 H998 Z" fill="#fff" stroke="#444" stroke-width="0.6"/>
<text x="998" y="467" font-size="6.6" fill="#222">20.0</text>
<rect x="994.5" y="471.6" width="30" height="1.4" fill="#555"/>
</svg></body></html>
